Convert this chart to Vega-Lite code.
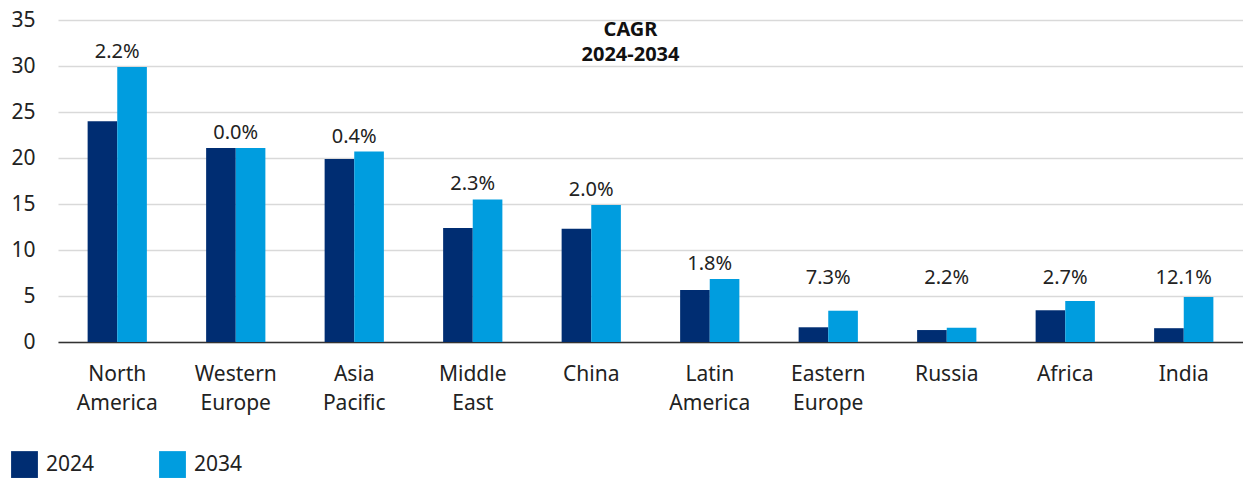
{
  "$schema": "https://vega.github.io/schema/vega-lite/v6.json",
  "width": 1185,
  "height": 322,
  "padding": {"left": 10, "top": 9, "right": 0, "bottom": 0},
  "background": "white",
  "config": {
    "font": "Noto Sans",
    "view": {"stroke": null},
    "axis": {"labelFont": "Noto Sans", "labelColor": "#222222"}
  },
  "title": {
    "text": ["CAGR", "2024-2034"],
    "font": "Noto Sans",
    "fontSize": 20,
    "fontWeight": "bold",
    "color": "#111111",
    "lineHeight": 25,
    "anchor": "middle",
    "frame": "group",
    "offset": -56,
    "dx": -20
  },
  "data": {
    "values": [
      {"region": "North America", "year": "2024", "value": 24.0, "cagr": "2.2%"},
      {"region": "North America", "year": "2034", "value": 29.9, "cagr": "2.2%"},
      {"region": "Western Europe", "year": "2024", "value": 21.1, "cagr": "0.0%"},
      {"region": "Western Europe", "year": "2034", "value": 21.1, "cagr": "0.0%"},
      {"region": "Asia Pacific", "year": "2024", "value": 19.9, "cagr": "0.4%"},
      {"region": "Asia Pacific", "year": "2034", "value": 20.7, "cagr": "0.4%"},
      {"region": "Middle East", "year": "2024", "value": 12.4, "cagr": "2.3%"},
      {"region": "Middle East", "year": "2034", "value": 15.5, "cagr": "2.3%"},
      {"region": "China", "year": "2024", "value": 12.3, "cagr": "2.0%"},
      {"region": "China", "year": "2034", "value": 14.9, "cagr": "2.0%"},
      {"region": "Latin America", "year": "2024", "value": 5.65, "cagr": "1.8%"},
      {"region": "Latin America", "year": "2034", "value": 6.85, "cagr": "1.8%"},
      {"region": "Eastern Europe", "year": "2024", "value": 1.6, "cagr": "7.3%"},
      {"region": "Eastern Europe", "year": "2034", "value": 3.4, "cagr": "7.3%"},
      {"region": "Russia", "year": "2024", "value": 1.3, "cagr": "2.2%"},
      {"region": "Russia", "year": "2034", "value": 1.55, "cagr": "2.2%"},
      {"region": "Africa", "year": "2024", "value": 3.45, "cagr": "2.7%"},
      {"region": "Africa", "year": "2034", "value": 4.45, "cagr": "2.7%"},
      {"region": "India", "year": "2024", "value": 1.5, "cagr": "12.1%"},
      {"region": "India", "year": "2034", "value": 4.9, "cagr": "12.1%"}
    ]
  },
  "encoding": {
    "x": {
      "field": "region",
      "type": "nominal",
      "sort": null,
      "scale": {"paddingInner": 0.5, "paddingOuter": 0.25},
      "axis": {
        "title": null,
        "labelAngle": 0,
        "labelExpr": "split(datum.label, ' ')",
        "labelFontSize": 21,
        "labelLineHeight": 29,
        "labelPadding": 21,
        "labelBaseline": "top",
        "ticks": false,
        "domain": true,
        "domainColor": "#333333",
        "domainWidth": 1.5,
        "grid": false
      }
    }
  },
  "layer": [
    {
      "mark": {"type": "bar"},
      "encoding": {
        "xOffset": {"field": "year", "type": "nominal"},
        "y": {
          "field": "value",
          "type": "quantitative",
          "scale": {"domain": [0, 35]},
          "axis": {
            "title": null,
            "values": [0, 5, 10, 15, 20, 25, 30, 35],
            "labelFontSize": 21,
            "labelPadding": 23,
            "ticks": false,
            "domain": false,
            "gridColor": "#d9d9d9",
            "gridWidth": 1.5
          }
        },
        "color": {
          "field": "year",
          "type": "nominal",
          "scale": {"domain": ["2024", "2034"], "range": ["#002D72", "#009DDF"]},
          "legend": {
            "title": null,
            "orient": "none",
            "legendX": -47,
            "legendY": 431,
            "direction": "horizontal",
            "symbolType": "square",
            "symbolSize": 720,
            "symbolStrokeWidth": 0,
            "symbolOffset": 0,
            "labelFontSize": 21,
            "labelOffset": 8,
            "labelColor": "#222222",
            "columnPadding": 64
          }
        }
      }
    },
    {
      "transform": [
        {"filter": "datum.year == '2034'"},
        {"calculate": "max(datum.value, 5.3)", "as": "label_at"}
      ],
      "mark": {"type": "text", "dy": -15, "fontSize": 20, "color": "#222222", "font": "Noto Sans"},
      "encoding": {
        "y": {"field": "label_at", "type": "quantitative"},
        "text": {"field": "cagr"}
      }
    }
  ]
}
